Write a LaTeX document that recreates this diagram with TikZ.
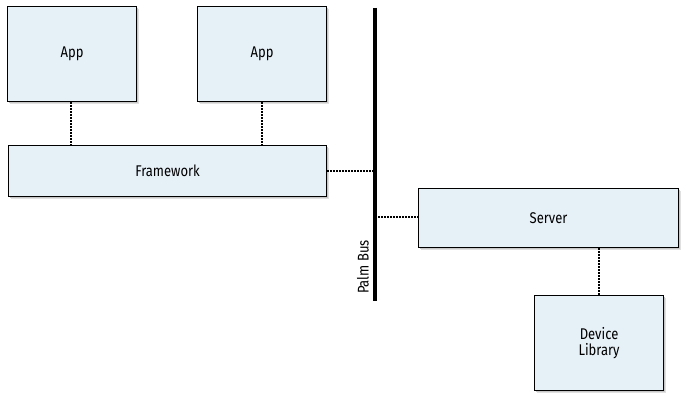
\documentclass[tikz,border=0pt]{standalone}
\usepackage{fontspec}
\setmainfont{Fira Sans}[FakeStretch=0.84]
\begin{document}
\begin{tikzpicture}[x=1pt,y=-1pt,
  box/.style={draw=black, line width=1.1pt, fill=boxfill, inner sep=0pt, anchor=north west, align=center, font=\fontsize{15.5}{18}\selectfont},
  dotline/.style={line width=1.7pt, dash pattern=on 1.6pt off 1.4pt},
  bus/.style={line width=3.2pt}
]
\definecolor{boxfill}{HTML}{E6F0F7}
\useasboundingbox (0,0) rectangle (692,404);
% shadows
\foreach \xa/\ya/\xb/\yb in {7/6/136/101, 197/6/326/101, 8/145/326/196, 418/188/678/247, 534/295/663/390}{
  \fill[black!12] (\xa+3,\ya+3) rectangle (\xb+3,\yb+3);
  \fill[black!22] (\xa+2,\ya+2) rectangle (\xb+2,\yb+2);
}
\node[box, minimum width=129pt, minimum height=95pt] (app1) at (7,6) {App};
\node[box, minimum width=129pt, minimum height=95pt] (app2) at (197,6) {App};
\node[box, minimum width=318pt, minimum height=51pt] (fw) at (8,145) {Framework};
\node[box, minimum width=260pt, minimum height=59pt] (srv) at (418,188) {Server};
\node[box, minimum width=129pt, minimum height=95pt] (dev) at (534,295) {Device\\[-2pt]Library};
\coordinate (bt) at (375,8);
\coordinate (bb) at (375,301);
\draw[bus] (bt) -- (bb);
\node[rotate=90, font=\fontsize{15.5}{18}\selectfont, inner sep=0pt] (lbl) at (363,267) {Palm Bus};
\draw[dotline] (app1.south -| 71,0) -- (fw.north -| 71,0);
\draw[dotline] (app2.south -| 262,0) -- (fw.north -| 262,0);
\draw[dotline] (fw.east |- 0,171) -- (bt |- 0,171);
\draw[dotline] (bt |- 0,217) -- (srv.west |- 0,217);
\draw[dotline] (srv.south -| 599,0) -- (dev.north -| 599,0);
\end{tikzpicture}
\end{document}
